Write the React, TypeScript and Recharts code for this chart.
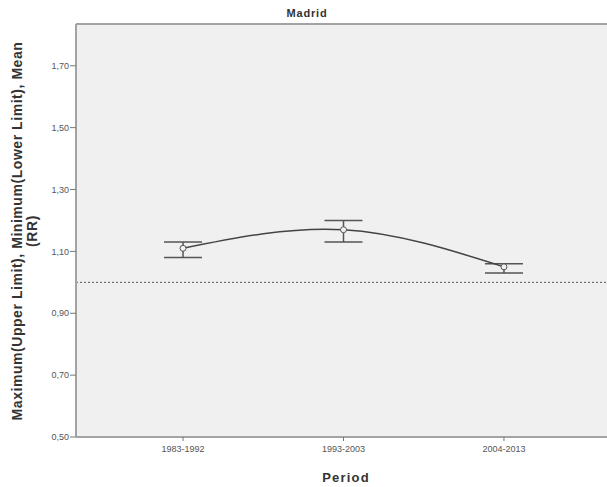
import {
    ComposedChart,
    Line,
    XAxis,
    YAxis,
    ErrorBar,
    ReferenceLine,
    ReferenceArea,
    Customized,
} from 'recharts';

const periods = ['1983-1992', '1993-2003', '2004-2013'];
const meanRR = [1.11, 1.17, 1.05];
const lowerLimit = [1.08, 1.13, 1.03];
const upperLimit = [1.13, 1.2, 1.06];
const yTicks = [0.5, 0.7, 0.9, 1.1, 1.3, 1.5, 1.7];
const Y_MIN = 0.5;
const Y_MAX = 1.835;
const X_MIN = -0.667;
const X_MAX = 2.667;

const data = periods.map((p, i) => ({
    idx: i,
    period: p,
    mean: meanRR[i],
    err: [meanRR[i] - lowerLimit[i], upperLimit[i] - meanRR[i]],
}));

const FONT = '"Liberation Sans", Arial, sans-serif';
const tickStyle = { fontSize: 9, fill: '#555', fontFamily: FONT };

const fmt = (v: number) => v.toFixed(2).replace('.', ',');

// title + axis titles, drawn as plain svg text
const Labels = () => (
    <g fontFamily={FONT} fontWeight="bold" fill="#333">
        <text x={307} y={17} textAnchor="middle" fontSize={11} letterSpacing={0.8}>
            Madrid
        </text>
        <text x={346} y={482} textAnchor="middle" fontSize={13} letterSpacing={1.2}>
            Period
        </text>
        <g transform="translate(0,231) rotate(-90)">
            <text x={0} y={22} textAnchor="middle" fontSize={14} letterSpacing={0.55}>
                Maximum(Upper Limit), Minimum(Lower Limit), Mean
            </text>
            <text x={0} y={37} textAnchor="middle" fontSize={14} letterSpacing={0.55}>
                (RR)
            </text>
        </g>
    </g>
);

const App = () => {
    return (
        <div style={{ width: 607, height: 487, overflow: 'hidden', position: 'absolute', left: 0, top: 0 }}>
            <ComposedChart
                width={630}
                height={487}
                data={data}
                margin={{ top: 24, right: 19, left: 0, bottom: 0 }}
            >
                <ReferenceArea
                    x1={X_MIN}
                    x2={X_MAX}
                    y1={Y_MIN}
                    y2={Y_MAX}
                    fill="#f0f0f0"
                    fillOpacity={1}
                    stroke="none"
                />
                <ReferenceLine y={Y_MAX} stroke="#a3a3a3" strokeWidth={2} />
                <XAxis
                    dataKey="idx"
                    type="number"
                    domain={[X_MIN, X_MAX]}
                    ticks={[0, 1, 2]}
                    tickFormatter={(i: number) => periods[i]}
                    height={50}
                    tick={tickStyle}
                    tickLine={{ stroke: '#777' }}
                    tickSize={4}
                    tickMargin={5}
                    axisLine={{ stroke: '#a3a3a3', strokeWidth: 2 }}
                    allowDataOverflow
                />
                <YAxis
                    type="number"
                    domain={[Y_MIN, Y_MAX]}
                    ticks={yTicks}
                    tickFormatter={fmt}
                    width={76}
                    tick={tickStyle}
                    tickLine={{ stroke: '#777' }}
                    tickSize={6}
                    tickMargin={1}
                    axisLine={{ stroke: '#a3a3a3', strokeWidth: 2 }}
                    allowDataOverflow
                />
                <ReferenceLine y={1} stroke="#555" strokeDasharray="2 2" strokeWidth={1} />
                <Line
                    type="natural"
                    dataKey="mean"
                    stroke="#444"
                    strokeWidth={1.5}
                    dot={{ r: 3, stroke: '#555', strokeWidth: 1, fill: '#f0f0f0' }}
                    activeDot={false}
                    isAnimationActive={false}
                >
                    <ErrorBar dataKey="err" width={19} stroke="#555" strokeWidth={1.5} direction="y" />
                </Line>
                <Customized component={Labels} />
            </ComposedChart>
        </div>
    );
};

export default App;
